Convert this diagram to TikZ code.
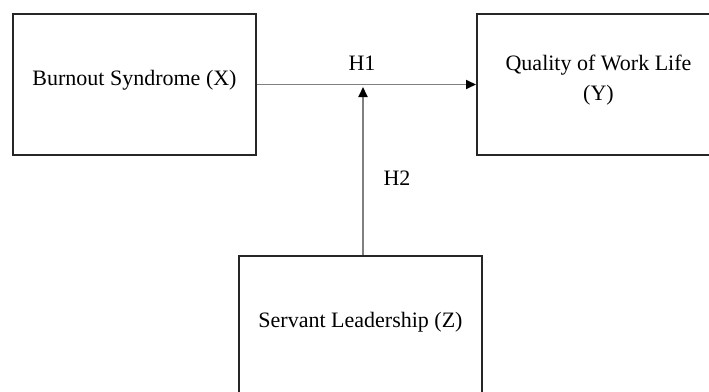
\documentclass[tikz,border=0pt]{standalone}
\usepackage{fontspec}
\setmainfont{Liberation Serif}
\usetikzlibrary{arrows.meta}

\begin{document}
\begin{tikzpicture}[x=1pt, y=-1pt,
	var/.style={draw=black!85, line width=2pt, minimum width=243pt, minimum height=141pt,
		inner sep=0pt, align=center, text depth=13pt, font=\fontsize{22}{30}\selectfont},
	link/.style={draw=black!50, line width=1.9pt, -{Triangle[length=10pt, width=9pt, black]}},
	hyp/.style={font=\fontsize{22}{26}\selectfont}]
	\clip (0, 0) rectangle (709, 391);
	\node[var] (burnout) at (134.5, 84.5) {Burnout Syndrome (X)};
	\node[var] (qwl) at (598.5, 84.5) {Quality of Work Life\\(Y)};
	\node[var] (servant) at (360.5, 326.5) {Servant Leadership (Z)};
	\coordinate (meet) at (363, 87);
	\draw[link] (burnout.east) -- (qwl.west);
	\draw[link] (servant.north -| meet) -- (meet);
	\node[hyp] (h1) at (362, 63) {H1};
	\node[hyp] (h2) at (397, 178) {H2};
\end{tikzpicture}
\end{document}
